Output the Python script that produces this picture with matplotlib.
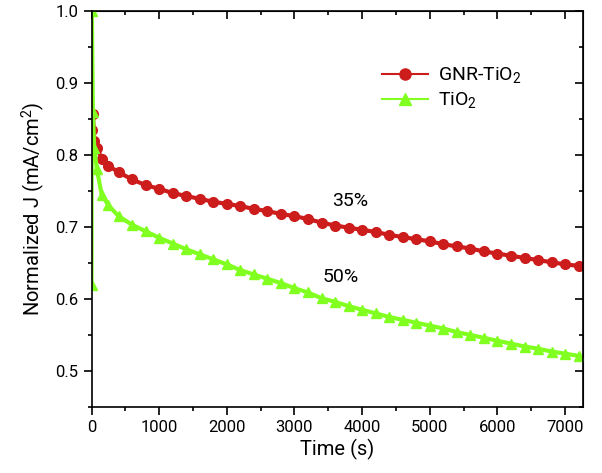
import matplotlib
matplotlib.use('Agg')
import matplotlib.pyplot as plt
from matplotlib.ticker import MultipleLocator

plt.rcParams['font.family'] = ['Roboto', 'DejaVu Sans']
plt.rcParams['mathtext.fontset'] = 'custom'
plt.rcParams['mathtext.rm'] = 'Roboto'

# время, с
t_gnr = [0, 20, 40, 80, 150, 250, 400, 600, 800, 1000, 1200, 1400, 1600, 1800,
         2000, 2200, 2400, 2600, 2800, 3000, 3200, 3400, 3600, 3800, 4000,
         4200, 4400, 4600, 4800, 5000, 5200, 5400, 5600, 5800, 6000, 6200,
         6400, 6600, 6800, 7000, 7200]
j_gnr = [0.835, 0.857, 0.820, 0.810, 0.795, 0.785, 0.776, 0.766, 0.758, 0.753,
         0.747, 0.743, 0.739, 0.735, 0.732, 0.729, 0.725, 0.722, 0.718, 0.715,
         0.711, 0.706, 0.702, 0.699, 0.696, 0.693, 0.689, 0.686, 0.683, 0.680,
         0.676, 0.673, 0.670, 0.666, 0.663, 0.660, 0.657, 0.654, 0.651, 0.648,
         0.646]

t_tio2 = [0, 5, 20, 40, 80, 150, 250, 400, 600, 800, 1000, 1200, 1400, 1600,
          1800, 2000, 2200, 2400, 2600, 2800, 3000, 3200, 3400, 3600, 3800,
          4000, 4200, 4400, 4600, 4800, 5000, 5200, 5400, 5600, 5800, 6000,
          6200, 6400, 6600, 6800, 7000, 7200]
j_tio2 = [0.620, 1.000, 0.860, 0.810, 0.780, 0.745, 0.730, 0.715, 0.703, 0.694,
          0.685, 0.677, 0.669, 0.662, 0.655, 0.648, 0.640, 0.634, 0.628, 0.622,
          0.615, 0.609, 0.601, 0.596, 0.590, 0.585, 0.580, 0.575, 0.571, 0.567,
          0.563, 0.559, 0.554, 0.550, 0.546, 0.542, 0.538, 0.534, 0.531, 0.527,
          0.524, 0.521]

red = '#cc1c1c'
green = '#80ff20'

fig = plt.figure(figsize=(6.02, 4.73), dpi=100)
ax = fig.add_axes([0.152, 0.1395, 0.816, 0.8375])

ax.plot(t_gnr, j_gnr, '-o', color=red, lw=3, ms=7, label='GNR-TiO$_2$')
ax.plot(t_tio2, j_tio2, '-^', color=green, lw=3, ms=7, label='TiO$_2$')

ax.set_xlim(0, 7260)
ax.set_ylim(0.45, 1.0)
ax.xaxis.set_major_locator(MultipleLocator(1000))
ax.xaxis.set_minor_locator(MultipleLocator(500))
ax.yaxis.set_major_locator(MultipleLocator(0.1))
ax.yaxis.set_minor_locator(MultipleLocator(0.05))
ax.tick_params(which='both', direction='out', labelsize=12, width=1.2)
ax.tick_params(which='major', length=6)
ax.tick_params(which='minor', length=3)

# зеркальные засечки внутрь сверху и справа
sec_x = ax.secondary_xaxis('top')
sec_x.xaxis.set_major_locator(MultipleLocator(1000))
sec_x.xaxis.set_minor_locator(MultipleLocator(500))
sec_x.tick_params(which='both', direction='in', labeltop=False, width=1.2)
sec_x.tick_params(which='major', length=6)
sec_x.tick_params(which='minor', length=3)
sec_y = ax.secondary_yaxis('right')
sec_y.yaxis.set_major_locator(MultipleLocator(0.1))
sec_y.yaxis.set_minor_locator(MultipleLocator(0.05))
sec_y.tick_params(which='both', direction='in', labelright=False, width=1.2)
sec_y.tick_params(which='major', length=6)
sec_y.tick_params(which='minor', length=3)

for s in ax.spines.values():
    s.set_linewidth(1.2)

ax.set_xlabel('Time (s)', fontsize=14.5, labelpad=3)
ax.set_ylabel('Normalized J (mA/cm$^2$)', fontsize=14.5, labelpad=6)

ax.text(3830, 0.736, '35%', fontsize=14, ha='center', va='center')
ax.text(3680, 0.631, '50%', fontsize=14, ha='center', va='center')

leg = ax.legend(loc='upper left', bbox_to_anchor=(0.555, 0.905), frameon=False,
                fontsize=14, handlelength=2.4, labelspacing=0.25, handletextpad=0.5)
for h in leg.legend_handles:
    h.set_linewidth(1.5)
    h.set_markersize(8)

plt.savefig('out.png', dpi=100)
